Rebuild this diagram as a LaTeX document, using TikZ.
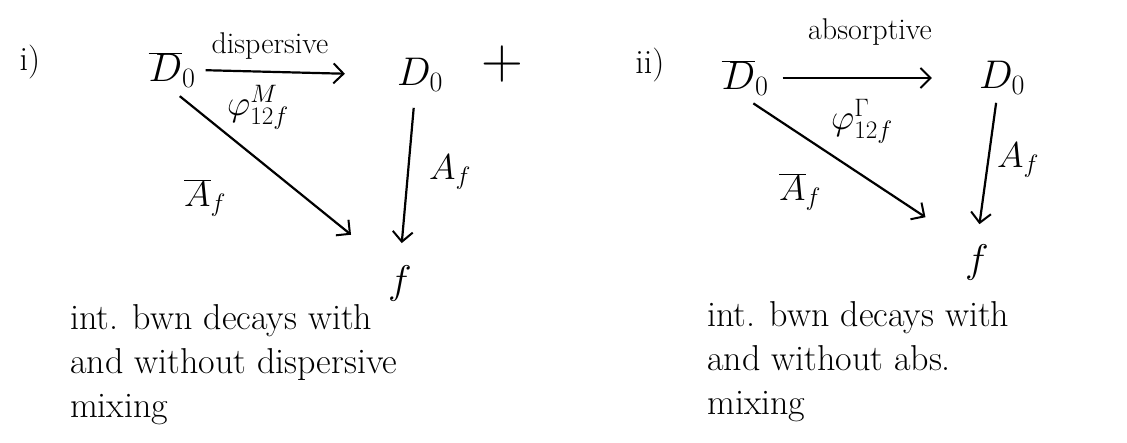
\documentclass[tikz,border=0pt]{standalone}
\usepackage{fix-cm}
\usepackage{fontspec}
\usetikzlibrary{arrows.meta}
\begin{document}
\begin{tikzpicture}[x=1pt,y=-1pt,
  lbl/.style={font=\fontsize{34}{40}\selectfont, inner sep=0pt},
  state/.style={font=\fontsize{40}{48}\selectfont, inner sep=2pt},
  sub/.style={font=\fontsize{30}{36}\selectfont, inner sep=0pt},
  phis/.style={font=\fontsize{36}{40}\selectfont, inner sep=0pt},
  amp/.style={font=\fontsize{36}{40}\selectfont, inner sep=0pt},
  body/.style={font=\fontsize{36}{44}\selectfont, align=left, anchor=north west, inner sep=0pt},
  conn/.style={line width=2.2pt, -{Straight Barb[length=10pt,width=20pt,line width=2pt]}}]
\useasboundingbox (0,0) rectangle (1127,442);
% ---- panel i
\node[lbl] (i1) at (30,62) {i)};
\node[state] (Db1) at (172,70) {$\overline{D}_0$};
\node[state] (D1) at (420,75) {$D_0$};
\node[state] (f1) at (400,283) {$f$};
\node[font=\fontsize{58}{58}\selectfont, inner sep=0pt] (plus) at (502,64) {+};
\draw[conn, shorten <=8pt, shorten >=50pt] (Db1.east) -- (D1.west);
\node[sub] (dis) at (270,46) {dispersive};
\node[phis] (phiM) at (258,108) {$\varphi^{M}_{\mathstrut 12f}$};
\draw[conn, shorten <=10pt, shorten >=45pt] (Db1.south) -- (f1.north west);
\node[amp] (Ab1) at (205,198) {$\overline{A}_f$};
\draw[conn, shorten <=14pt, shorten >=20pt] (D1.255) -- (f1.north);
\node[amp] (A1) at (450,172) {$A_f$};
\node[body] (t1) at (70,304) {int. bwn decays with\\and without dispersive\\mixing};
% ---- panel ii
\node[lbl] (i2) at (650,65) {ii)};
\node[state] (Db2) at (745,78) {$\overline{D}_0$};
\node[state] (D2) at (1002,78) {$D_0$};
\node[state] (f2) at (977,262) {$f$};
\draw[conn, shorten <=12pt, shorten >=45pt] (Db2.east) -- (D2.west);
\node[sub] (abs) at (870,32) {absorptive};
\node[phis] (phiG) at (862,122) {$\varphi^{\Gamma}_{\mathstrut 12f}$};
\draw[conn, shorten <=10pt, shorten >=45pt] (Db2.south) -- (f2.north west);
\node[amp] (Ab2) at (800,192) {$\overline{A}_f$};
\draw[conn, shorten <=6pt, shorten >=18pt] (D2.255) -- (f2.north);
\node[amp] (A2) at (1018,160) {$A_f$};
\node[body] (t2) at (707,301) {int. bwn decays with\\and without abs.\\mixing};
\end{tikzpicture}
\end{document}
